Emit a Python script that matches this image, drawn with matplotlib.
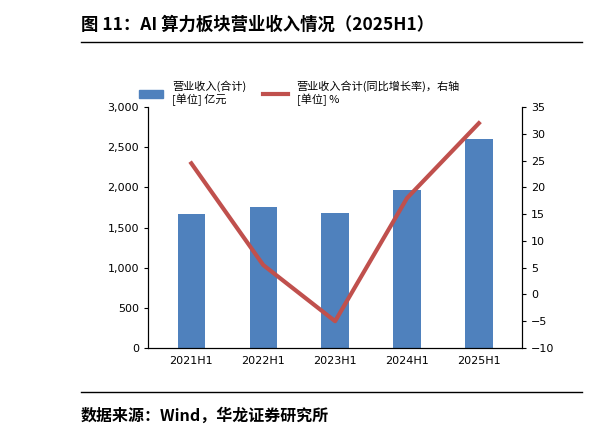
import matplotlib

matplotlib.use("Agg")
import matplotlib.pyplot as plt
from matplotlib.lines import Line2D
from matplotlib.patches import Patch

plt.rcParams["font.family"] = ["DejaVu Sans", "Noto Sans CJK SC"]

periods = ["2021H1", "2022H1", "2023H1", "2024H1", "2025H1"]
revenue = [1670, 1760, 1680, 1970, 2600]
growth = [24.5, 5.5, -5.0, 18.0, 32.0]

BAR = "#4f81bd"
LINE = "#c0504d"

fig = plt.figure(figsize=(6, 4.41), dpi=100)
ax = fig.add_axes([0.247, 0.211, 0.623, 0.546])
ax2 = ax.twinx()

x = range(len(periods))
ax.bar(x, revenue, width=0.38, color=BAR, zorder=2)
ax2.plot(x, growth, color=LINE, lw=3, zorder=3)

ax.set_xlim(-0.6, 4.6)
ax.set_ylim(0, 3000)
ax.set_yticks(range(0, 3001, 500))
ax.set_yticklabels([f"{v:,}" for v in range(0, 3001, 500)])
ax2.set_ylim(-10, 35)
ax2.set_yticks(range(-10, 36, 5))
ax.set_xticks(list(x))
ax.set_xticklabels(periods)

for a in (ax, ax2):
    a.tick_params(labelsize=8, length=3)
    a.spines["top"].set_visible(False)
ax.tick_params(axis="x", length=0, pad=6)

handles = [Patch(color=BAR), Line2D([], [], color=LINE, lw=3)]
fig.legend(handles, ["营业收入(合计)\n[单位] 亿元", "营业收入合计(同比增长率)，右轴\n[单位] %"],
           loc="upper left", bbox_to_anchor=(0.215, 0.84), ncol=2, frameon=False,
           prop={"family": ["Noto Sans CJK SC"], "size": 8},
           handlelength=2.2, columnspacing=1.5)

fig.text(0.135, 0.945, "图 11：AI 算力板块营业收入情况（2025H1）", fontsize=12.5,
         fontweight="bold", family=["Noto Sans CJK SC"], va="center")
fig.text(0.135, 0.058, "数据来源：Wind，华龙证券研究所", fontsize=11.5,
         fontweight="bold", family=["Noto Sans CJK SC"], va="center")
fig.add_artist(Line2D([0.135, 0.97], [0.905, 0.905], color="black", lw=1))
fig.add_artist(Line2D([0.135, 0.97], [0.111, 0.111], color="black", lw=1))

fig.savefig("out.png", dpi=100)
